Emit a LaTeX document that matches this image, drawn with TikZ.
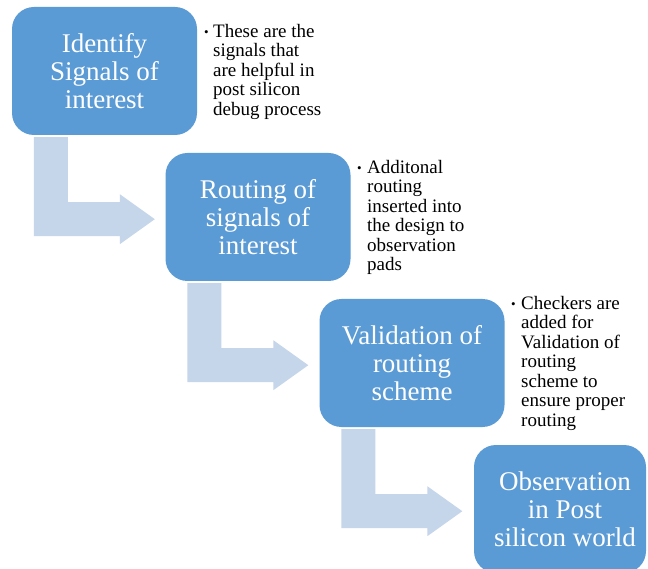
\documentclass[tikz,border=0pt]{standalone}
\usepackage{fontspec}
\setmainfont{Liberation Serif}
\definecolor{boxblue}{HTML}{5B9BD5}
\definecolor{arrowblue}{HTML}{C5D5EA}
\begin{document}
\begin{tikzpicture}[x=1pt,y=-1pt,
  stepbox/.style={fill=boxblue, rounded corners=22pt, inner sep=0pt,
    minimum width=185pt, minimum height=128pt},
  steptext/.style={text=white, align=center, inner sep=0pt,
    font=\fontsize{27}{28}\selectfont},
  note/.style={anchor=north west, align=left, inner sep=0pt,
    font=\fontsize{19}{19.5}\selectfont},
  bulletmark/.style={anchor=base west, inner sep=0pt,
    font=\fontsize{13}{13}\selectfont},
  pics/bentarrow/.style={code={
    \fill[arrowblue] (22,2) -- (56,2) -- (56,67) -- (108,67) -- (108,59)
      -- (143,84) -- (108,109) -- (108,101) -- (22,101) -- cycle;}}]
\clip (0,0) rectangle (648,569);
\fill[white] (0,0) rectangle (648,569);

% process steps
\node[stepbox] (s1) at (104.5,71) {};
\node[stepbox] (s2) at (258,217) {};
\node[stepbox] (s3) at (412,363) {};
\node[stepbox, minimum width=172pt] (s4) at (560,509) {};

\node[steptext] (t1) at (s1.center) {Identify\\Signals of\\interest};
\node[steptext] (t2) at (s2.center) {Routing of\\signals of\\interest};
\node[steptext] (t3) at (s3.center) {Validation of\\routing\\scheme};
\node[steptext] (t4) at ([xshift=5pt]s4.center) {Observation\\in Post\\silicon world};

% bent arrows between steps
\pic at (s1.south west) {bentarrow};
\pic at (s2.south west) {bentarrow};
\pic at (s3.south west) {bentarrow};

% side notes
\node[bulletmark] (b1) at (204,37) {•};
\node[note] (n1) at (213,24) {These are the\\signals that\\are helpful in\\post silicon\\debug process};
\node[bulletmark] (b2) at (357,173) {•};
\node[note] (n2) at (367,160) {Additonal\\routing\\inserted into\\the design to\\observation\\pads};
\node[bulletmark] (b3) at (511,309) {•};
\node[note] (n3) at (521,296) {Checkers are\\added for\\Validation of\\routing\\scheme to\\ensure proper\\routing};
\end{tikzpicture}
\end{document}
